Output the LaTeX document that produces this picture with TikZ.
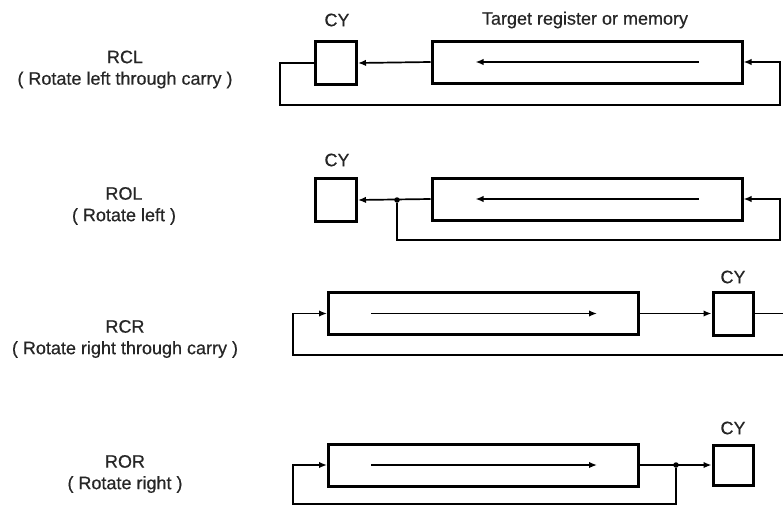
\documentclass[tikz,border=0pt]{standalone}
\usepackage{fontspec}
\setmainfont{Liberation Sans}
\newfontfamily\scanfont{Liberation Sans}[FakeBold=0.6]
\usetikzlibrary{arrows.meta}

\tikzset{
  txt/.style={font=\scanfont\fontsize{18}{21.5}\selectfont, align=center, text=black!85},
  regbox/.style={draw, line width=3pt, minimum width=310pt, minimum height=42pt, inner sep=0pt},
  cybox/.style={draw, line width=3pt, minimum width=41pt, minimum height=43pt, inner sep=0pt},
  wire/.style={line width=1.7pt},
  flow/.style={wire, -{Latex[length=8pt,width=6.5pt]}},
  junc/.style={circle, fill, inner sep=0pt, minimum size=5.5pt}
}

\begin{document}
\begin{tikzpicture}[x=1pt, y=-1pt]

  \useasboundingbox (0,0) rectangle (783,506);

  % RCL
  \node[txt] (rcl) at (125, 69.5) {RCL\\( Rotate left through carry )};
  \node[regbox] (reg1) at (587, 62) {};
  \node[cybox]  (cy1)  at (336, 63) {};
  \node[txt] (cyl1) at (337, 20) {CY};
  \node[txt] (tgt)  at (585, 20) {Target register or memory};

  \coordinate (l1) at (280, 105);
  \coordinate (r1) at (780, 105);

  \draw[flow] (reg1.west) -- (cy1.east);
  \draw[flow] ([xshift=-45pt]reg1.east) -- ([xshift=45pt]reg1.west);
  \draw[flow] (cy1.west) -| (l1) -- (r1) |- (reg1.east);

  % ROL
  \node[txt] (rol) at (124, 206) {ROL\\( Rotate left )};
  \node[regbox] (reg2) at (587, 199) {};
  \node[cybox]  (cy2)  at (336, 200) {};
  \node[txt] (cyl2) at (337, 160) {CY};
  \node[junc] (d2) at (397, 200) {};

  \coordinate (r2) at (780, 240);

  \draw[flow] (reg2.west) -- (cy2.east);
  \draw[flow] ([xshift=-45pt]reg2.east) -- ([xshift=45pt]reg2.west);
  \draw[flow] (d2) |- (r2) |- (reg2.east);

  % RCR
  \node[txt] (rcr) at (125, 339) {RCR\\( Rotate right through carry )};
  \node[regbox] (reg3) at (483.5, 313.5) {};
  \node[cybox, minimum width=40pt] (cy3) at (733, 313.5) {};
  \node[txt] (cyl3) at (733, 277) {CY};

  \coordinate (r3) at (785, 355);
  \coordinate (l3) at (293, 355);

  \draw[flow] (reg3.east) -- (cy3.west);
  \draw[flow] ([xshift=44pt]reg3.west) -- ([xshift=-43pt]reg3.east);
  \draw[flow] (cy3.east) -| (r3) -- (l3) |- (reg3.west);

  % ROR
  \node[txt] (ror) at (125, 474) {ROR\\( Rotate right )};
  \node[regbox] (reg4) at (483.5, 465) {};
  \node[cybox, minimum width=40pt, minimum height=40pt] (cy4) at (733, 465) {};
  \node[txt] (cyl4) at (733, 428) {CY};
  \node[junc] (d4) at (676, 465) {};

  \coordinate (l4) at (293, 504);

  \draw[flow] (reg4.east) -- (cy4.west);
  \draw[flow] ([xshift=44pt]reg4.west) -- ([xshift=-43pt]reg4.east);
  \draw[flow] (d4) |- (l4) |- (reg4.west);

\end{tikzpicture}
\end{document}
